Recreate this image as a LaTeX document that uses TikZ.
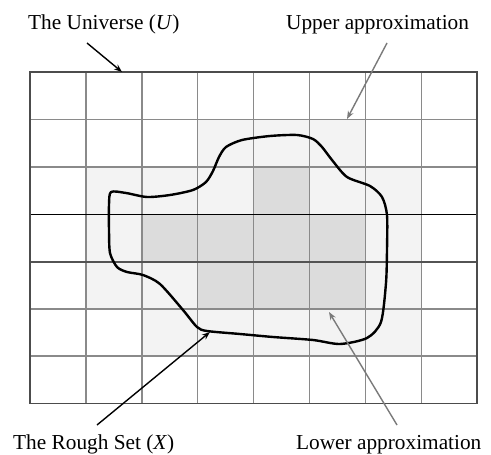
\documentclass[tikz,border=0pt]{standalone}
\usepackage{fontspec}
\setmainfont{Liberation Serif}
\usetikzlibrary{arrows.meta}
\definecolor{lite}{HTML}{F3F3F3}
\definecolor{dark}{HTML}{DCDCDC}
\definecolor{gridc}{HTML}{8A8A8A}
\definecolor{arrg}{HTML}{7A7A7A}
\tikzset{
  lbl/.style={font=\fontsize{21.3}{23}\selectfont, inner sep=0pt, anchor=base west},
  blkarrow/.style={-{Stealth[length=8pt,width=6pt]}, line width=1.4pt, black},
  grayarrow/.style={-{Stealth[length=8pt,width=6pt]}, line width=1.4pt, arrg},
  gridline/.style={gridc, line width=1.5pt},
  setcurve/.style={black, line width=2.4pt, line join=round}
}
\begin{document}
\begin{tikzpicture}[x=1pt,y=-1pt]
\useasboundingbox (0,0) rectangle (491,455);
\fill[white] (0,0) rectangle (491,455);
% cell geometry
\def\xa{30}\def\cw{55.9}\def\ya{72.3}\def\rh{47.3}
% light cells (upper approximation)
\foreach \c/\r in {3/1,4/1,5/1, 1/2,2/2,3/2,5/2,6/2, 1/3,6/3, 1/4,2/4,6/4, 2/5,3/5,4/5,5/5,6/5}{
  \fill[lite] ({\xa+\c*\cw},{\ya+\r*\rh}) rectangle ++(\cw,\rh);
}
% dark cells (lower approximation)
\foreach \c/\r in {4/2, 2/3,3/3,4/3,5/3, 3/4,4/4,5/4}{
  \fill[dark] ({\xa+\c*\cw},{\ya+\r*\rh}) rectangle ++(\cw,\rh);
}
% grid
\foreach \c in {1,...,7}{
  \draw[gridline] ({\xa+\c*\cw},\ya) -- ++(0,{7*\rh});
}
\foreach \r in {1,2,5,6}{
  \draw[gridline] (\xa,{\ya+\r*\rh}) -- ++({8*\cw},0);
}
\draw[gridc!60!black, line width=2pt] (\xa,{\ya+4*\rh}) -- ++({8*\cw},0);
\draw[black, line width=1.2pt] (\xa,{\ya+3*\rh}) -- ++({8*\cw},0);
\draw[gridc!55!black, line width=1.8pt] (\xa,\ya) rectangle ++({8*\cw},{7*\rh});
% rough set curve
\draw[setcurve] plot[smooth cycle, tension=0.45] coordinates {
 (111,192) (126,193) (147,197) (170,195) (193,190) (206,182) (213,171)
 (219,157) (226,147) (242,140) (270,136) (297,135) (313,139) (322,147)
 (332,160) (347,177) (370,186) (382,197) (387,215) (387,250) (386,283)
 (381,322) (367,338) (340,344) (313,340) (273,337) (240,334) (207,331)
 (197,327) (183,310) (160,284) (143,275) (127,272) (117,267) (110,253)
 (109,230) (109,205)};
% labels
\node[lbl] (uni) at (28,30) {The Universe (\textit{U})};
\node[lbl] (upp) at (286,30) {Upper approximation};
\node[lbl] (rough) at (13,449) {The Rough Set (\textit{X})};
\node[lbl] (low) at (296,449) {Lower approximation};
% arrow ends
\coordinate (uniS) at (87,43);
\coordinate (uniE) at (122,72);
\coordinate (uppS) at (387,43);
\coordinate (uppE) at (347,119);
\coordinate (roughS) at (97,425);
\coordinate (roughE) at (210,332);
\coordinate (lowS) at (397,425);
\coordinate (lowE) at (329,312);
\draw[blkarrow] (uniS) -- (uniE);
\draw[grayarrow] (uppS) -- (uppE);
\draw[blkarrow] (roughS) -- (roughE);
\draw[grayarrow] (lowS) -- (lowE);
\end{tikzpicture}
\end{document}
